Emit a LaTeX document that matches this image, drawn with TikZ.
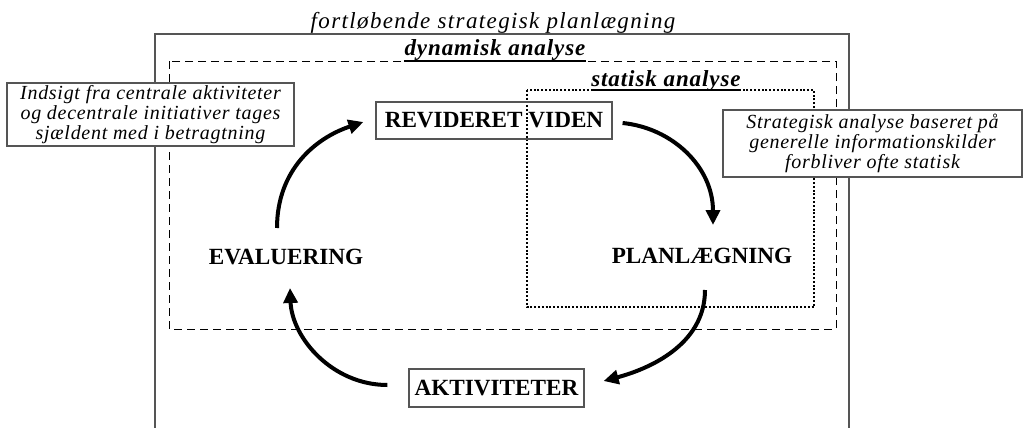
\documentclass[tikz,border=0pt]{standalone}
\usepackage{fontspec}
\setmainfont{Liberation Serif}
\newfontfamily\spacedA[LetterSpace=6]{Liberation Serif}
\newfontfamily\spacedB[LetterSpace=3.6]{Liberation Serif}
\newfontfamily\spacedC[LetterSpace=4]{Liberation Serif}
\usetikzlibrary{arrows.meta,calc}
\definecolor{framegray}{RGB}{85,85,85}
\tikzset{
  stage/.style={inner sep=0pt,font=\fontsize{11.6}{12}\selectfont\bfseries},
  stagebox/.style={stage,draw=framegray,line width=0.6pt,inner sep=0pt},
  note/.style={draw=framegray,line width=0.6pt,fill=white,align=center,inner sep=0pt,
    font=\spacedB\itshape\fontsize{10}{8.9}\selectfont},
  regtitle/.style={anchor=base,inner sep=0pt},
  arr/.style={line width=2pt,-{Triangle[length=7.5pt,width=7pt]}},
  dynframe/.style={line width=0.5pt,dash pattern=on 4pt off 2.5pt},
  statframe/.style={line width=1pt,dash pattern=on 1pt off 0.9pt},
}
\begin{document}
\begin{tikzpicture}[x=0.5pt,y=-0.5pt]
\useasboundingbox (0,0) rectangle (1023,428);
% outer frame (open at bottom)
\draw[framegray,line width=0.75pt] (155,428) -- (155,34) -- (849,34) -- (849,428);
\node[regtitle,font=\spacedA\itshape\fontsize{11.5}{12}\selectfont] (ttl) at (493,28) {fortløbende strategisk planlægning};
% dynamic frame
\draw[dynframe] (169,61) rectangle (836,329);
\node[regtitle,font=\spacedC\bfseries\itshape\fontsize{11.5}{12}\selectfont] (dyn) at (495,55) {dynamisk analyse};
\draw[line width=0.8pt] ([yshift=-3pt]dyn.base west) -- ([yshift=-3pt]dyn.base east);
% static frame
\draw[statframe] (527,90) rectangle (814,307);
\node[regtitle,font=\spacedC\bfseries\itshape\fontsize{11.5}{12}\selectfont] (sta) at (666,86) {statisk analyse};
\draw[line width=0.8pt] ([yshift=-2pt]sta.base west) -- ([yshift=-2pt]sta.base east);
% notes
\node[note,minimum width=143.5pt,minimum height=31.5pt] (nl) at (150.5,114.5)
  {Indsigt fra centrale aktiviteter\\og decentrale initiativer tages\\sjældent med i betragtning};
\node[note,minimum width=149.5pt,minimum height=33.5pt] (nr) at (872.5,143.5)
  {Strategisk analyse baseret på\\generelle informationskilder\\forbliver ofte statisk};
% stages
\node[stagebox,minimum width=118pt,minimum height=18.5pt] (rev) at (494,120.5) {REVIDERET VIDEN};
\node[stage] (plan) at (702,256) {PLANLÆGNING};
\node[stagebox,minimum width=87.5pt,minimum height=19pt] (akt) at (496.5,388) {AKTIVITETER};
\node[stage] (eval) at (286,257) {EVALUERING};
% cycle arrows
\draw[arr] ($(eval)+(-9,-29)$) .. controls +(0,-58) and +(-48,16) .. ($(rev.west)+(-12,1.5)$);
\draw[arr] ($(rev.east)+(10,2.5)$) .. controls +(50,5) and +(0,-58) .. ($(plan)+(11,-31)$);
\draw[arr] ($(plan)+(3,34)$) .. controls +(0,55) and +(45,-12) .. ($(akt.east)+(19,-7)$);
\draw[arr] ($(akt.west)+(-21,-3)$) .. controls +(-55,0) and +(2,50) .. ($(eval)+(4,31)$);
\end{tikzpicture}
\end{document}
